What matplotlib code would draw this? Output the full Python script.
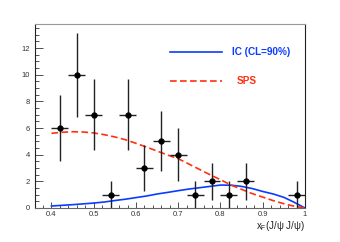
import numpy as np
import matplotlib
matplotlib.use("Agg")
import matplotlib.pyplot as plt
from matplotlib.ticker import MultipleLocator

plt.rcParams["font.family"] = ["Liberation Sans", "DejaVu Sans"]
plt.rcParams["lines.scale_dashes"] = False

# data points (x_F bins, counts, errors)
xf = [0.42, 0.46, 0.50, 0.54, 0.58, 0.62, 0.66, 0.70, 0.74, 0.78, 0.82, 0.86, 0.98]
counts = [6, 10, 7, 1, 7, 3, 5, 4, 1, 2, 1, 2, 1]
yerr = [2.45, 3.16, 2.65, 1.0, 2.65, 1.73, 2.24, 2.0, 1.0, 1.41, 1.0, 1.41, 1.0]
xerr = [0.02] * len(xf)

# model curves
x_curve = [0.400, 0.425, 0.450, 0.475, 0.500, 0.525, 0.550, 0.575, 0.600,
           0.625, 0.650, 0.675, 0.700, 0.725, 0.750, 0.775, 0.800, 0.825,
           0.850, 0.875, 0.900, 0.925, 0.950, 0.975, 1.000]
sps = [5.60, 5.68, 5.72, 5.70, 5.63, 5.50, 5.33, 5.12, 4.85,
       4.57, 4.27, 3.97, 3.70, 3.30, 2.90, 2.50, 2.12, 1.72,
       1.40, 1.08, 0.82, 0.55, 0.32, 0.13, 0.0]
ic = [0.15, 0.20, 0.25, 0.31, 0.37, 0.45, 0.56, 0.66, 0.78,
      0.90, 1.05, 1.17, 1.30, 1.42, 1.52, 1.62, 1.72, 1.71,
      1.62, 1.46, 1.24, 1.05, 0.80, 0.42, 0.0]

fig = plt.figure(figsize=(3.4, 2.42), dpi=100)
ax = fig.add_axes([0.103, 0.1405, 0.794, 0.7603])

blue = "#0a3cff"
red = "#ff3010"

ax.plot(x_curve, ic, color=blue, lw=1.2)
ax.plot(x_curve, sps, color=red, lw=1.2, dashes=(4.8, 2.4))
ax.errorbar(xf, counts, xerr=xerr, yerr=yerr, fmt="o", color="black",
            ecolor="#222222", elinewidth=1.0, markersize=3.5, capsize=0)

ax.set_xlim(0.361, 1.0)
ax.set_ylim(0, 13.8)

ax.xaxis.set_major_locator(MultipleLocator(0.1))
ax.xaxis.set_minor_locator(MultipleLocator(0.02))
ax.yaxis.set_major_locator(MultipleLocator(2))
ax.yaxis.set_minor_locator(MultipleLocator(0.5))
ax.set_xticks([0.4, 0.5, 0.6, 0.7, 0.8, 0.9, 1.0])
ax.set_xticklabels(["0.4", "0.5", "0.6", "0.7", "0.8", "0.9", "1"])

ax.tick_params(axis="both", which="both", direction="in", top=False, right=False,
               labelsize=5.5, colors="#333333", width=0.6)
ax.tick_params(axis="y", which="major", length=5.5, pad=3.5)
ax.tick_params(axis="y", which="minor", length=2.8)
ax.tick_params(axis="x", which="major", length=4.5, pad=2)
ax.tick_params(axis="x", which="minor", length=2.5)

ax.spines["left"].set_color("#222222")
ax.spines["bottom"].set_color("#666666")
ax.spines["top"].set_color("#999999")
ax.spines["right"].set_color("#222222")
for s in ax.spines.values():
    s.set_linewidth(0.8)

ax.set_xlabel(r"x$_{\mathregular{F}}$(J/ψ J/ψ)", fontsize=7, color="#222222",
              loc="right", labelpad=1.2)

# legend
ax.plot([0.5, 0.6926], [0.848, 0.848], color=blue, lw=1.2, transform=ax.transAxes)
ax.text(0.7285, 0.848, "IC (CL=90%)", color=blue, fontsize=7.2, fontweight="bold",
        va="center", ha="left", transform=ax.transAxes)
ax.plot([0.5, 0.6926], [0.69, 0.69], color=red, lw=1.2, dashes=(4.8, 2.4),
        transform=ax.transAxes)
ax.text(0.747, 0.69, "SPS", color=red, fontsize=7.2, fontweight="bold",
        va="center", ha="left", transform=ax.transAxes)

fig.savefig("out.png", dpi=100)
